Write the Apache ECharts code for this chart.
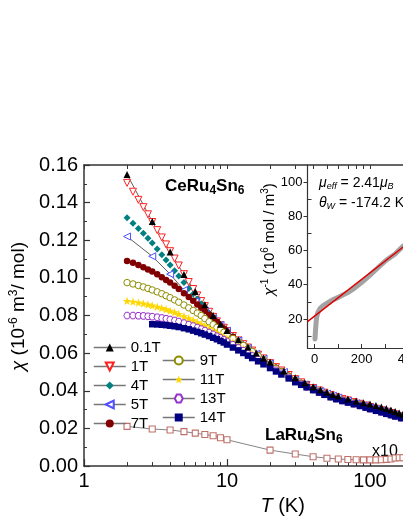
<!DOCTYPE html>
<html>
<head>
<meta charset="utf-8">
<script src="https://cdn.jsdelivr.net/npm/echarts@6.0.0/dist/echarts.min.js"></script>
<style>
    html, body { margin: 0; padding: 0; background: #fff; overflow: hidden; }
    #chart { width: 490px; height: 521px; }
</style>
</head>
<body>
<div id="chart"></div>
<script>
    var FONT = 'Liberation Sans, Arial, sans-serif';

    // main panel: chi(T) of CeRu4Sn6 at several fields (10^-6 m^3/mol)
    var temps = [2, 2.2, 2.4, 2.6, 2.8, 3, 3.25, 3.5, 3.75, 4, 4.3, 4.6, 5, 5.4, 5.8, 6.2, 6.6, 7, 7.5, 8, 8.5, 9, 9.5,
        10, 11, 12, 13, 14, 15, 16.5, 18, 20, 22, 24, 27, 30, 33, 36, 40, 44, 48, 53, 58, 64, 70, 77, 85, 93,
        100, 110, 120, 130, 140, 150, 165, 180, 200, 220, 250, 280, 300];
    var sparseT = [2, 3, 4, 5, 6, 7, 8, 9, 10, 12, 14, 16, 18, 20, 25, 30, 35, 40, 45, 50, 55, 60, 70, 80, 90,
        100, 110, 120, 130, 140, 150, 160, 170, 180, 200, 220, 250, 280, 300];

    var chi01T = [.155, .130, .1138, .1018, .0928, .0858, .0800, .0754, .0720, .0672, .0633, .0601, .0575, .0553,
        .0506, .0470, .0443, .0422, .0406, .0392, .0381, .0372, .0357, .0346, .0337, .0330, .0322, .0314, .0306,
        .0298, .0290, .0282, .0275, .0270, .0261, .0252, .0240, .0230, .0224];
    var chi5T = [.1220, .1115, .1020, .0935, .0875, .0826, .0785, .0750, .0719, .0668, .0628, .0596, .0570, .0545,
        .0500, .0459, .0434, .0414, .0398, .0385, .0374, .0364, .0347, .0334, .0322, .0312, .0303, .0295, .0287,
        .0280, .0273, .0267, .0261, .0256, .0246, .0237, .0225, .0215, .0209];

    var chi1T = [.1505, .1458, .1415, .1376, .1338, .1297, .1254, .1215, .1178, .1142, .1103, .1066, .1020, .0978, .0941,
        .0907, .0877, .0850, .0820, .0793, .0769, .0749, .0735, .0718, .0691, .0668, .0648, .0630, .0614, .0592, .0572,
        .0547, .0526, .0508, .0484, .0462, .0445, .0431, .0415, .0402, .0390, .0378, .0367, .0357, .0349, .0340,
        .0331, .0322, .0314, .0305, .0297, .0289, .0282, .0275, .0265, .0257, .0247, .0238, .0226, .0216, .0210];
    var chi4T = [.1320, .1291, .1263, .1237, .1211, .1185, .1153, .1123, .1095, .1068, .1038, .1010, .0976, .0944, .0915,
        .0888, .0863, .0840, .0813, .0789, .0767, .0748, .0731, .0716, .0689, .0666, .0646, .0628, .0612, .0590, .0569,
        .0545, .0524, .0506, .0482, .0460, .0443, .0429, .0413, .0400, .0388, .0376, .0365, .0355, .0347, .0338,
        .0329, .0320, .0312, .0303, .0295, .0287, .0280, .0273, .0263, .0255, .0245, .0236, .0224, .0214, .0208];
    var chi7T = [.1090, .1080, .1069, .1057, .1045, .1034, .1019, .1004, .0989, .0975, .0958, .0941, .0919, .0898, .0878,
        .0859, .0841, .0824, .0804, .0785, .0767, .0746, .0731, .0714, .0687, .0664, .0644, .0626, .0610, .0588, .0567,
        .0543, .0522, .0504, .0480, .0458, .0441, .0427, .0411, .0398, .0386, .0374, .0363, .0353, .0345, .0336,
        .0327, .0318, .0310, .0301, .0293, .0285, .0278, .0271, .0261, .0253, .0243, .0234, .0222, .0212, .0206];
    var chi9T = [.0975, .0968, .0960, .0952, .0944, .0936, .0926, .0916, .0905, .0895, .0883, .0871, .0856, .0841, .0827,
        .0813, .0800, .0784, .0767, .0752, .0737, .0723, .0711, .0699, .0678, .0659, .0641, .0624, .0609, .0586, .0565,
        .0540, .0519, .0501, .0478, .0456, .0439, .0425, .0409, .0396, .0384, .0372, .0361, .0351, .0343, .0334,
        .0325, .0316, .0308, .0299, .0291, .0283, .0276, .0269, .0260, .0252, .0242, .0233, .0221, .0211, .0205];
    var chi11T = [.0878, .0874, .0869, .0864, .0859, .0854, .0847, .0840, .0833, .0826, .0818, .0809, .0797, .0786, .0775,
        .0764, .0754, .0744, .0732, .0720, .0709, .0698, .0688, .0677, .0658, .0640, .0624, .0608, .0594, .0574, .0555,
        .0533, .0514, .0497, .0475, .0453, .0437, .0423, .0407, .0394, .0382, .0370, .0359, .0349, .0341, .0332,
        .0323, .0314, .0306, .0297, .0289, .0281, .0274, .0267, .0258, .0250, .0240, .0231, .0219, .0209, .0203];
    var chi13T = [.0800, .0800, .0799, .0798, .0796, .0794, .0791, .0787, .0783, .0779, .0774, .0768, .0760, .0752, .0744,
        .0736, .0728, .0720, .0710, .0700, .0690, .0681, .0672, .0662, .0645, .0628, .0613, .0598, .0585, .0567, .0549,
        .0528, .0509, .0493, .0471, .0450, .0435, .0421, .0406, .0393, .0381, .0369, .0358, .0348, .0340, .0331,
        .0322, .0313, .0305, .0296, .0288, .0280, .0273, .0266, .0257, .0249, .0239, .0230, .0218, .0208, .0202];
    var chi14T = [null, null, null, null, null, .0754, .0753, .0751, .0749, .0746, .0743, .0739, .0733, .0727, .0720,
        .0713, .0706, .0699, .0691, .0682, .0674, .0665, .0657, .0646, .0630, .0615, .0601, .0587, .0574, .0557, .0541,
        .0521, .0503, .0487, .0466, .0446, .0432, .0419, .0404, .0391, .0379, .0366, .0356, .0346, .0338, .0329,
        .0320, .0311, .0303, .0294, .0286, .0278, .0271, .0264, .0255, .0247, .0237, .0228, .0216, .0206, .0200];

    // LaRu4Sn6 reference (shown x10)
    var laT = [2, 3, 4, 5, 6, 7, 8, 9, 10, 20, 30, 40, 50, 60, 70, 80, 90, 100, 110, 120, 130, 140, 150, 160, 170,
        180, 190, 200, 220, 250, 280, 300];
    var chiLa = [.0211, .0197, .0192, .0183, .0175, .0168, .0161, .0151, .0140, .0085, .0064, .0050, .0042, .0038,
        .0035, .0034, .0033, .0033, .0033, .0034, .0036, .0038, .0043, .0044, .0044, .0045, .0045, .0046, .0047,
        .0048, .0049, .0050];

    // inset: 1/chi (10^6 mol/m^3) and Curie-Weiss line
    var invT = [2, 3, 5, 7, 9, 12, 15, 19, 25, 30, 37, 45, 59, 75, 101, 120, 144, 170, 201, 235, 272, 305, 343, 375, 390];
    var invChi = [8.3, 11.0, 15.1, 18.5, 20.9, 22.8, 24.0, 24.9, 26.3, 27.0, 27.8, 28.6, 29.7, 31.0, 32.6, 34.0,
        35.6, 38.0, 41.4, 45.5, 50.2, 54.3, 58.0, 62.3, 63.8];
    var fitT = [-30, 500];
    var fitChi = [18.4, 75.2];

    var xMajor = [1, 10, 100];
    var xMinor = [2, 3, 4, 5, 6, 7, 8, 9, 20, 30, 40, 50, 60, 70, 80, 90, 200, 300, 400, 500];
    var insetXTicks = [0, 100, 200, 300, 400, 500];
    var insetXLabels = [0, 200, 400];
    var insetYLabels = [20, 40, 60, 80, 100];
    var insetYMinor = [10, 30, 50, 70, 90];

    var STAR = 'path://M50,0L61.8,35.1L98.1,35.1L68.8,56.7L79.4,90.9L50,69.9L20.6,90.9L31.2,56.7L1.9,35.1L38.2,35.1Z';
    var HEX = 'path://M28,4L72,4L96,50L72,96L28,96L4,50Z';
    var AXIS = '#333';

    function pairs(xs, ys) {
        var out = [];
        for (var i = 0; i < xs.length; i++) {
            if (ys[i] != null) out.push([xs[i], ys[i]]);
        }
        return out;
    }

    // dense sweeps hide their joining line, the sparse ones keep a thin dark line
    function fieldSeries(name, xs, ys, symbol, size, color, hollow, rotate, showLine) {
        return {
            name: name,
            type: 'line',
            xAxisIndex: 0,
            yAxisIndex: 0,
            data: pairs(xs, ys),
            symbol: symbol,
            symbolSize: size,
            symbolRotate: rotate || 0,
            showAllSymbol: true,
            lineStyle: { color: '#333', width: 0.8, opacity: showLine ? 1 : 0 },
            itemStyle: {
                color: hollow ? '#fff' : color,
                borderColor: color,
                borderWidth: hollow ? 1 : 0
            },
            emphasis: { disabled: true },
            silent: true
        };
    }

    function legendOpt(names, left, top) {
        return {
            data: names,
            orient: 'vertical',
            left: left,
            top: top,
            padding: 0,
            itemWidth: 32,
            itemHeight: 10,
            itemGap: 4,
            selectedMode: false,
            lineStyle: { color: '#777', width: 1.5, opacity: 1 },
            textStyle: { fontSize: 15, fontFamily: FONT, color: '#000', lineHeight: 14 }
        };
    }

    var chart = echarts.init(document.getElementById('chart'));
    var option = {
        animation: false,
        backgroundColor: '#fff',
        grid: [
            { left: 84, top: 165, width: 397.3, height: 308 },
            { left: 307.5, top: 165, width: 124.5, height: 183 }
        ],
        legend: [
            legendOpt(['0.1T', '1T', '4T', '5T', '7T'], 93, 340),
            legendOpt(['9T', '11T', '13T', '14T'], 162, 353)
        ],
        xAxis: [
            {
                type: 'log', logBase: 10, gridIndex: 0, position: 'bottom', min: 1, max: 600,
                axisLine: { onZero: false, lineStyle: { color: AXIS, width: 1.5 } },
                axisTick: { inside: true, length: 7, customValues: xMajor, lineStyle: { color: AXIS, width: 1.2 } },
                minorTick: { show: false },
                axisLabel: { customValues: xMajor, fontSize: 20, fontFamily: FONT, color: '#000', margin: 5 },
                splitLine: { show: false },
                name: '{i|T} (K)',
                nameLocation: 'middle',
                nameGap: 18,
                nameTextStyle: {
                    fontSize: 20, fontFamily: FONT, color: '#000',
                    rich: { i: { fontSize: 20, fontStyle: 'italic', fontFamily: FONT, color: '#000' } }
                }
            },
            {
                type: 'log', logBase: 10, gridIndex: 0, position: 'bottom', min: 1, max: 600,
                axisLine: { show: false, onZero: false },
                axisTick: { inside: true, length: 4, customValues: xMinor, lineStyle: { color: AXIS, width: 1 } },
                axisLabel: { show: false },
                splitLine: { show: false }
            },
            {
                type: 'log', logBase: 10, gridIndex: 0, position: 'top', min: 1, max: 600,
                axisLine: { onZero: false, lineStyle: { color: AXIS, width: 1.5 } },
                axisTick: { inside: true, length: 4, customValues: xMajor.concat(xMinor), lineStyle: { color: AXIS, width: 1 } },
                axisLabel: { show: false },
                splitLine: { show: false }
            },
            {
                type: 'value', gridIndex: 1, position: 'bottom', min: -30, max: 500,
                axisLine: { onZero: false, lineStyle: { color: AXIS, width: 1.2 } },
                axisTick: { inside: true, length: 4, customValues: insetXTicks, lineStyle: { color: AXIS } },
                axisLabel: { customValues: insetXLabels, fontSize: 13, fontFamily: FONT, color: '#000', margin: 5 },
                splitLine: { show: false }
            }
        ],
        yAxis: [
            {
                type: 'value', gridIndex: 0, position: 'left', min: 0, max: 0.16, interval: 0.02,
                axisLine: { show: true, onZero: false, lineStyle: { color: AXIS, width: 1.5 } },
                axisTick: { inside: true, length: 6, lineStyle: { color: AXIS, width: 1.2 } },
                minorTick: { show: true, splitNumber: 2, length: 3, lineStyle: { color: AXIS } },
                axisLabel: {
                    fontSize: 20, fontFamily: FONT, color: '#000', margin: 6,
                    formatter: function (v) { return v.toFixed(2); }
                },
                splitLine: { show: false },
                name: '{i|χ} (10{sup|-6} m{sup|3}/ mol)',
                nameLocation: 'middle',
                nameRotate: 90,
                nameGap: 50,
                nameTextStyle: {
                    fontSize: 19, fontFamily: FONT, color: '#000', padding: [0, 0, 0, 18],
                    rich: {
                        i: { fontSize: 19, fontStyle: 'italic', fontFamily: FONT, color: '#000' },
                        sup: { fontSize: 12, fontFamily: FONT, color: '#000', padding: [0, 0, 9, 0] }
                    }
                }
            },
            {
                type: 'value', gridIndex: 1, position: 'left', min: 3, max: 110,
                axisLine: { show: true, onZero: false, lineStyle: { color: AXIS, width: 1.2 } },
                axisTick: { length: 4, customValues: insetYLabels, lineStyle: { color: AXIS } },
                axisLabel: { customValues: insetYLabels, fontSize: 13, fontFamily: FONT, color: '#000', margin: 5 },
                splitLine: { show: false },
                name: '{i|χ}{sup|-1} (10{sup|6} mol / m{sup|3})',
                nameLocation: 'middle',
                nameRotate: 90,
                nameGap: 27,
                nameTextStyle: {
                    fontSize: 15, fontFamily: FONT, color: '#000', padding: [0, 0, 0, 34],
                    rich: {
                        i: { fontSize: 15, fontStyle: 'italic', fontFamily: FONT, color: '#000' },
                        sup: { fontSize: 10, fontFamily: FONT, color: '#000', padding: [0, 0, 8, 0] }
                    }
                }
            },
            {
                type: 'value', gridIndex: 1, position: 'left', min: 3, max: 110,
                axisLine: { show: false, onZero: false },
                axisTick: { inside: true, length: 4, customValues: insetYMinor, lineStyle: { color: AXIS } },
                axisLabel: { show: false },
                splitLine: { show: false }
            }
        ],
        graphic: [
            {
                type: 'text', left: 165, top: 178, silent: true,
                style: {
                    text: '{a|CeRu}{s|4}{a|Sn}{s|6}',
                    rich: {
                        a: { fontSize: 17, fontWeight: 'bold', fontFamily: FONT, fill: '#000' },
                        s: { fontSize: 12, fontWeight: 'bold', fontFamily: FONT, fill: '#000', padding: [9, 0, 0, 0] }
                    }
                }
            },
            {
                type: 'text', left: 265, top: 427, silent: true,
                style: {
                    text: '{a|LaRu}{s|4}{a|Sn}{s|6}',
                    rich: {
                        a: { fontSize: 17, fontWeight: 'bold', fontFamily: FONT, fill: '#000' },
                        s: { fontSize: 12, fontWeight: 'bold', fontFamily: FONT, fill: '#000', padding: [9, 0, 0, 0] }
                    }
                }
            },
            {
                type: 'text', left: 372, top: 444, silent: true,
                style: { text: 'x10', fontSize: 16, fontFamily: FONT, fill: '#000' }
            },
            {
                type: 'text', left: 319, top: 176, silent: true,
                style: {
                    text: '{i|μ}{sub|eff}{n| = 2.41}{i|μ}{sub|B}',
                    rich: {
                        i: { fontSize: 14, fontStyle: 'italic', fontFamily: FONT, fill: '#000' },
                        n: { fontSize: 14, fontFamily: FONT, fill: '#000' },
                        sub: { fontSize: 9, fontStyle: 'italic', fontFamily: FONT, fill: '#000', padding: [7, 0, 0, 0] }
                    }
                }
            },
            {
                type: 'text', left: 319, top: 196, silent: true,
                style: {
                    text: '{i|θ}{sub|W}{n| = -174.2 K}',
                    rich: {
                        i: { fontSize: 14, fontStyle: 'italic', fontFamily: FONT, fill: '#000' },
                        n: { fontSize: 14, fontFamily: FONT, fill: '#000' },
                        sub: { fontSize: 9, fontStyle: 'italic', fontFamily: FONT, fill: '#000', padding: [7, 0, 0, 0] }
                    }
                }
            }
        ],
        series: [
            {
                name: 'LaRu4Sn6', type: 'line', xAxisIndex: 0, yAxisIndex: 0,
                data: pairs(laT, chiLa),
                symbol: 'rect', symbolSize: 6, showAllSymbol: true,
                lineStyle: { color: '#666', width: 0.8 },
                itemStyle: { color: '#fff', borderColor: '#c0706a', borderWidth: 1.1 },
                emphasis: { disabled: true }, silent: true
            },
            fieldSeries('1T', temps, chi1T, 'triangle', 7, '#ff2020', true, 180, false),
            fieldSeries('4T', temps, chi4T, 'diamond', 7, '#008080', false, 0, false),
            fieldSeries('5T', sparseT, chi5T, 'triangle', 7, '#4f4fff', true, 90, true),
            fieldSeries('7T', temps, chi7T, 'circle', 6.5, '#800000', false, 0, false),
            fieldSeries('9T', temps, chi9T, 'circle', 6.5, '#8c8c00', true, 0, false),
            fieldSeries('11T', temps, chi11T, STAR, 8.5, '#ffd700', false, 0, false),
            fieldSeries('13T', temps, chi13T, HEX, 6.5, '#9932cc', true, 0, false),
            fieldSeries('14T', temps, chi14T, 'rect', 6.5, '#000080', false, 0, false),
            fieldSeries('0.1T', sparseT, chi01T, 'triangle', 7, '#000000', false, 0, true),
            {
                type: 'line', xAxisIndex: 3, yAxisIndex: 1,
                data: pairs(invT, invChi),
                symbol: 'none',
                lineStyle: { color: '#a3a3a3', width: 5, cap: 'round', join: 'round' },
                emphasis: { disabled: true }, silent: true
            },
            {
                type: 'line', xAxisIndex: 3, yAxisIndex: 1,
                data: pairs(fitT, fitChi),
                symbol: 'none',
                lineStyle: { color: '#e00000', width: 1.5 },
                emphasis: { disabled: true }, silent: true
            }
        ]
    };
    chart.setOption(option);
</script>
</body>
</html>
